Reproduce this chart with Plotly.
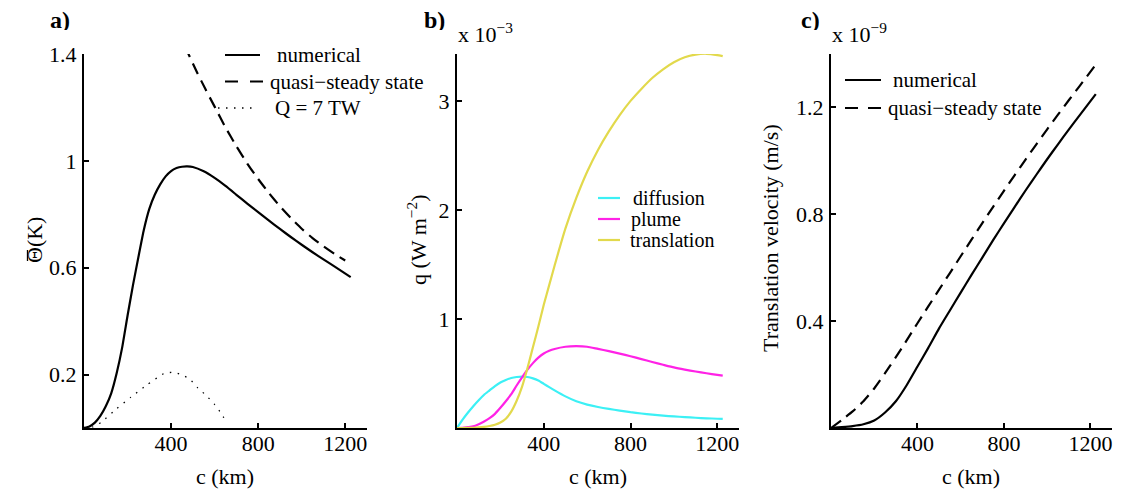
import plotly.graph_objects as go

# ---------------- data ----------------
# panel a: mean temperature anomaly (K) vs plume size c (km)
a_num_c = [0, 25, 50, 75, 100, 125, 150, 175, 200, 225, 250, 275, 300, 325, 350, 375, 400, 425, 450, 475,
           500, 550, 600, 650, 700, 750, 800, 850, 900, 950, 1000, 1050, 1100, 1150, 1225]
a_num_theta = [0, 0.006, 0.02, 0.045, 0.081, 0.13, 0.205, 0.30, 0.42, 0.535, 0.64, 0.742, 0.82, 0.873,
               0.912, 0.942, 0.962, 0.973, 0.978, 0.979, 0.977, 0.961, 0.936, 0.906, 0.873, 0.84, 0.808,
               0.776, 0.745, 0.715, 0.686, 0.658, 0.631, 0.605, 0.565]
a_qss_c = [465, 480, 520, 560, 600, 650, 700, 750, 800, 850, 900, 950, 1000, 1050, 1100, 1150, 1200]
a_qss_theta = [1.43, 1.40, 1.33, 1.265, 1.203, 1.125, 1.055, 0.99, 0.932, 0.879, 0.83, 0.786, 0.746, 0.711,
               0.68, 0.652, 0.627]
a_q7_c = [0, 40, 80, 150, 215, 290, 370, 410, 446, 485, 523, 561, 600, 630, 655]
a_q7_theta = [0, 0.004, 0.022, 0.072, 0.115, 0.162, 0.205, 0.208, 0.20, 0.184, 0.15, 0.122, 0.088, 0.055, 0.02]

# panel b: heat flux components q (x 10^-3 W m^-2)
b_c = [0, 25, 50, 75, 100, 125, 150, 175, 200, 225, 250, 275, 300, 325, 350, 375, 400, 425, 450, 500, 550,
       600, 650, 700, 750, 800, 850, 900, 950, 1000, 1050, 1100, 1150, 1200, 1225]
b_diffusion = [0, 0.075, 0.14, 0.20, 0.255, 0.305, 0.345, 0.385, 0.418, 0.44, 0.458, 0.468, 0.472, 0.468,
               0.455, 0.435, 0.405, 0.375, 0.345, 0.29, 0.245, 0.215, 0.193, 0.175, 0.16, 0.145, 0.133,
               0.122, 0.113, 0.106, 0.10, 0.094, 0.089, 0.085, 0.083]
b_plume = [0, 0.002, 0.008, 0.015, 0.035, 0.06, 0.09, 0.13, 0.185, 0.245, 0.31, 0.39, 0.465, 0.535, 0.595,
           0.645, 0.683, 0.708, 0.725, 0.745, 0.75, 0.745, 0.725, 0.705, 0.682, 0.658, 0.632, 0.605, 0.58,
           0.556, 0.536, 0.518, 0.502, 0.487, 0.48]
b_translation = [0, 0, 0.001, 0.002, 0.005, 0.01, 0.018, 0.03, 0.05, 0.085, 0.15, 0.25, 0.38, 0.55, 0.74,
                 0.93, 1.13, 1.31, 1.49, 1.83, 2.11, 2.35, 2.55, 2.72, 2.87, 3.00, 3.11, 3.21, 3.29, 3.355,
                 3.40, 3.425, 3.432, 3.42, 3.41]

# panel c: translation velocity (x 10^-9 m/s)
c_num_c = [0, 50, 100, 150, 200, 250, 300, 350, 400, 450, 500, 550, 600, 650, 700, 750, 800, 850, 900, 950,
           1000, 1050, 1100, 1150, 1225]
c_num_v = [0, 0.003, 0.007, 0.014, 0.028, 0.058, 0.10, 0.16, 0.23, 0.30, 0.373, 0.44, 0.507, 0.573, 0.638,
           0.703, 0.766, 0.828, 0.889, 0.948, 1.006, 1.062, 1.117, 1.17, 1.25]
c_qss_c = [0, 50, 100, 150, 200, 250, 300, 350, 400, 450, 500, 550, 600, 650, 700, 750, 800, 850, 900, 950,
           1000, 1050, 1100, 1150, 1225]
c_qss_v = [0, 0.03, 0.062, 0.10, 0.148, 0.205, 0.265, 0.328, 0.392, 0.455, 0.518, 0.58, 0.643, 0.705, 0.767,
           0.828, 0.888, 0.947, 1.005, 1.062, 1.118, 1.173, 1.227, 1.28, 1.36]

x_ticks = [400, 800, 1200]
x_tick_text = ["400", "800", "1200"]
a_y_ticks = [0.2, 0.6, 1.0, 1.4]
a_y_text = ["0.2", "0.6", "1", "1.4"]
b_y_ticks = [1, 2, 3]
b_y_text = ["1", "2", "3"]
c_y_ticks = [0.4, 0.8, 1.2]
c_y_text = ["0.4", "0.8", "1.2"]

# ---------------- figure ----------------
# the page body has an 8px default margin, so the figure is placed with that offset
OFF = 8
W, H = 1125 - OFF, 493 - OFF
FONT = "Liberation Serif, Times New Roman, serif"
CYAN = "#3cf0f5"
MAGENTA = "#ff22e6"
YELLOW = "#e2d94c"


def px(x):
    return (x - OFF) / W


def py(y):
    return 1 - (y - OFF) / H


fig = go.Figure()
lw = 2.2
spl = dict(shape="spline", smoothing=0.5)
DASH = "12px,7px"

fig.add_trace(go.Scatter(x=a_num_c, y=a_num_theta, mode="lines", line=dict(color="black", width=lw, **spl),
                         xaxis="x", yaxis="y", name="numerical"))
fig.add_trace(go.Scatter(x=a_qss_c, y=a_qss_theta, mode="lines",
                         line=dict(color="black", width=lw, dash=DASH, **spl),
                         xaxis="x", yaxis="y", name="quasi−steady state"))
fig.add_trace(go.Scatter(x=a_q7_c, y=a_q7_theta, mode="lines",
                         line=dict(color="black", width=1.3, dash="1.5px,6.5px", **spl),
                         xaxis="x", yaxis="y", name="Q = 7 TW"))

fig.add_trace(go.Scatter(x=b_c, y=b_diffusion, mode="lines", line=dict(color=CYAN, width=lw, **spl),
                         xaxis="x2", yaxis="y2", name="diffusion"))
fig.add_trace(go.Scatter(x=b_c, y=b_plume, mode="lines", line=dict(color=MAGENTA, width=lw, **spl),
                         xaxis="x2", yaxis="y2", name="plume"))
fig.add_trace(go.Scatter(x=b_c, y=b_translation, mode="lines", line=dict(color=YELLOW, width=lw, **spl),
                         xaxis="x2", yaxis="y2", name="translation"))

fig.add_trace(go.Scatter(x=c_num_c, y=c_num_v, mode="lines", line=dict(color="black", width=lw, **spl),
                         xaxis="x3", yaxis="y3", name="numerical"))
fig.add_trace(go.Scatter(x=c_qss_c, y=c_qss_v, mode="lines",
                         line=dict(color="black", width=lw, dash=DASH, **spl),
                         xaxis="x3", yaxis="y3", name="quasi−steady state"))

ydom = [py(428), py(54)]
xdoms = [[px(84), px(367)], [px(457), px(739)], [px(831), px(1112)]]

axis_common = dict(showline=True, linecolor="black", linewidth=2, ticks="inside", ticklen=5,
                   tickwidth=1.5, tickcolor="black", showgrid=False, zeroline=False, automargin=False,
                   tickfont=dict(family=FONT, size=22, color="black"), fixedrange=True)

layout_axes = {}
yinfo = [([0, 1.4], a_y_ticks, a_y_text), ([0, 3.43], b_y_ticks, b_y_text), ([0, 1.4], c_y_ticks, c_y_text)]
for i in range(3):
    xn = "xaxis" if i == 0 else f"xaxis{i+1}"
    yn = "yaxis" if i == 0 else f"yaxis{i+1}"
    yref = "y" if i == 0 else f"y{i+1}"
    xref = "x" if i == 0 else f"x{i+1}"
    layout_axes[xn] = dict(domain=xdoms[i], range=[0, 1300], anchor=yref, tickmode="array",
                           tickvals=x_ticks, ticktext=x_tick_text, ticklabelstandoff=-5, **axis_common)
    layout_axes[yn] = dict(domain=ydom, range=yinfo[i][0], anchor=xref, tickmode="array",
                           tickvals=yinfo[i][1], ticktext=yinfo[i][2], ticklabelstandoff=1, **axis_common)

fig.update_layout(width=W, height=H, margin=dict(l=0, r=0, t=0, b=0, autoexpand=False), showlegend=False,
                  plot_bgcolor="white", paper_bgcolor="white", **layout_axes)

ann = []


def text(x, y, s, size=22, xanchor="center", yanchor="middle", angle=0, bold=False, height=None):
    d = dict(x=px(x), y=py(y), xref="paper", yref="paper", text=(f"<b>{s}</b>" if bold else s),
             showarrow=False, xanchor=xanchor, yanchor=yanchor, textangle=angle,
             font=dict(family=FONT, size=size, color="black"))
    if height is not None:
        d["height"] = height
        d["valign"] = "middle"
        d["borderpad"] = 0
    ann.append(d)


# panel labels
text(60, 20, "a)", size=24, bold=True, height=20)
text(434, 20, "b)", size=24, bold=True, height=20)
text(810, 20, "c)", size=24, bold=True, height=20)

# exponent labels
text(456, 49, "x 10<sup>−3</sup>", size=22, xanchor="left", yanchor="bottom")
text(830, 49, "x 10<sup>−9</sup>", size=22, xanchor="left", yanchor="bottom")

# axis titles
for cx in (225, 598, 971):
    text(cx, 476, "c (km)")
text(34, 240, "\u0398(K)", angle=-90)
text(417, 240, "q (W m<sup>−2</sup>)", angle=-90)
text(770, 238, "Translation velocity (m/s)", angle=-90)

shapes = []


def sample(x0, x1, y0, y1=None, color="black", dash="solid", width=2.2):
    y1 = y0 if y1 is None else y1
    shapes.append(dict(type="line", xref="paper", yref="paper", x0=px(x0), x1=px(x1), y0=py(y0), y1=py(y1),
                       line=dict(color=color, width=width, dash=dash)))


# bar over Theta in the rotated y title of panel a
sample(27.5, 27.5, 250, 261, width=1.3)

# legends
sample(225, 260, 55)
text(275, 55, "numerical", size=21, xanchor="left")
sample(225, 263, 81.5, dash="13px,12px")
text(268, 81.5, "quasi−steady state", size=21, xanchor="left")
sample(218, 257, 108, dash="1.5px,6.5px", width=1.3)
text(273, 108, "Q = 7 TW", size=21, xanchor="left")

sample(598, 620, 198, color=CYAN)
text(631, 198, "diffusion", size=20, xanchor="left")
sample(598, 620, 219, color=MAGENTA)
text(629, 219, "plume", size=20, xanchor="left")
sample(598, 620, 240, color=YELLOW)
text(628, 240, "translation", size=20, xanchor="left")

sample(845, 881, 80)
text(891, 80, "numerical", size=21, xanchor="left")
sample(845, 881, 108, dash="13px,10px")
text(886, 108, "quasi−steady state", size=21, xanchor="left")

fig.update_layout(annotations=ann, shapes=shapes)
fig.write_html("out.html")
